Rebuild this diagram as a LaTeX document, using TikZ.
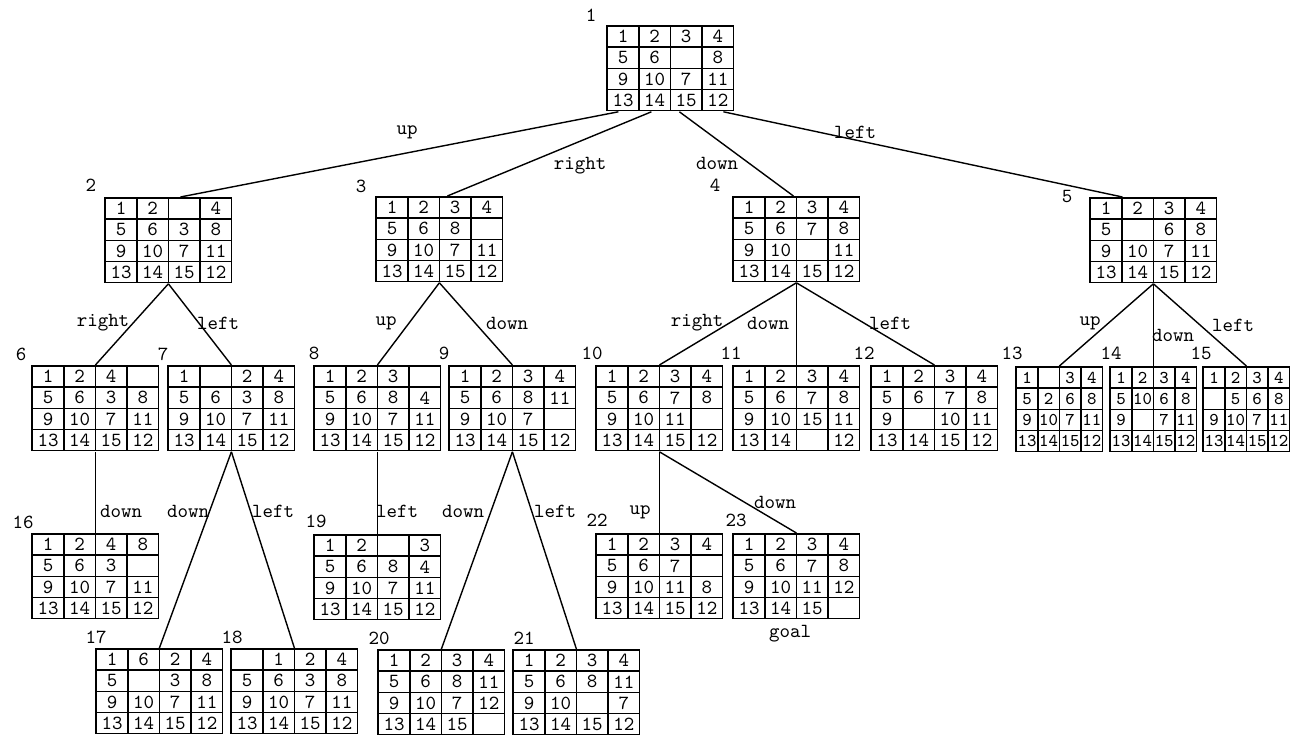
\documentclass[tikz,border=0pt]{standalone}
\usepackage{tikz}
\usetikzlibrary{matrix, positioning}

\tikzset{
  board/.style={matrix of nodes, nodes in empty cells, anchor=north west, inner sep=0pt,
    column sep=-0.8pt, row sep=-0.8pt,
    nodes={draw, line width=0.8pt, anchor=center, inner sep=0pt, outer sep=0pt, minimum width=15.8pt, minimum height=10.55pt, font=\ttfamily}},
  smallboard/.style={board, nodes={minimum width=10.8pt, font=\ttfamily\fontsize{9}{10}\selectfont}},
  edge/.style={line width=0.7pt},
  num/.style={font=\ttfamily, inner sep=1pt},
  move/.style={font=\ttfamily, inner sep=1pt}
}

\begin{document}
\begin{tikzpicture}[x=0.5pt, y=-0.5pt]
  \useasboundingbox (0,0) rectangle (1292,742);
  % start state
  \matrix[board] (b1) at (606,25) {1 & 2 & 3 & 4\\ 5 & 6 & & 8\\ 9 & 10 & 7 & 11\\ 13 & 14 & 15 & 12\\};
  \node[num] (n1) at (591,15) {1};
  % first level
  \matrix[board] (b2) at (104,197) {1 & 2 & & 4\\ 5 & 6 & 3 & 8\\ 9 & 10 & 7 & 11\\ 13 & 14 & 15 & 12\\};
  \matrix[board] (b3) at (375,196) {1 & 2 & 3 & 4\\ 5 & 6 & 8 & \\ 9 & 10 & 7 & 11\\ 13 & 14 & 15 & 12\\};
  \matrix[board] (b4) at (732,196) {1 & 2 & 3 & 4\\ 5 & 6 & 7 & 8\\ 9 & 10 & & 11\\ 13 & 14 & 15 & 12\\};
  \matrix[board] (b5) at (1089,197) {1 & 2 & 3 & 4\\ 5 & & 6 & 8\\ 9 & 10 & 7 & 11\\ 13 & 14 & 15 & 12\\};
  \node[num] (n2) at (91,185) {2};
  \node[num] (n3) at (361,186) {3};
  \node[num] (n4) at (715,185) {4};
  \node[num] (n5) at (1067,197) {5};
  \draw[edge] ([xshift=-26pt]b1.south) -- ([xshift=6pt]b2.north);
  \draw[edge] ([xshift=-9.5pt]b1.south) -- ([xshift=4pt]b3.north);
  \draw[edge] ([xshift=4.5pt]b1.south) -- ([xshift=-1.5pt]b4.north);
  \draw[edge] ([xshift=26.5pt]b1.south) -- ([xshift=-15.5pt]b5.north);
  \node[move] (m2) at (407,132) {up};
  \node[move] (m3) at (580,166) {right};
  \node[move] (m4) at (717,163) {down};
  \node[move] (m5) at (855,132) {left};
  % second level
  \matrix[board] (b6) at (31,365) {1 & 2 & 4 & \\ 5 & 6 & 3 & 8\\ 9 & 10 & 7 & 11\\ 13 & 14 & 15 & 12\\};
  \matrix[board] (b7) at (167,365) {1 & & 2 & 4\\ 5 & 6 & 3 & 8\\ 9 & 10 & 7 & 11\\ 13 & 14 & 15 & 12\\};
  \matrix[board] (b8) at (313,365) {1 & 2 & 3 & \\ 5 & 6 & 8 & 4\\ 9 & 10 & 7 & 11\\ 13 & 14 & 15 & 12\\};
  \matrix[board] (b9) at (448,365) {1 & 2 & 3 & 4\\ 5 & 6 & 8 & 11\\ 9 & 10 & 7 & \\ 13 & 14 & 15 & 12\\};
  \matrix[board] (b10) at (595,365) {1 & 2 & 3 & 4\\ 5 & 6 & 7 & 8\\ 9 & 10 & 11 & \\ 13 & 14 & 15 & 12\\};
  \matrix[board] (b11) at (732,365) {1 & 2 & 3 & 4\\ 5 & 6 & 7 & 8\\ 9 & 10 & 15 & 11\\ 13 & 14 & & 12\\};
  \matrix[board] (b12) at (870,365) {1 & 2 & 3 & 4\\ 5 & 6 & 7 & 8\\ 9 & & 10 & 11\\ 13 & 14 & 15 & 12\\};
  \matrix[smallboard] (b13) at (1015,366) {1 & & 3 & 4\\ 5 & 2 & 6 & 8\\ 9 & 10 & 7 & 11\\ 13 & 14 & 15 & 12\\};
  \matrix[smallboard] (b14) at (1109,366) {1 & 2 & 3 & 4\\ 5 & 10 & 6 & 8\\ 9 & & 7 & 11\\ 13 & 14 & 15 & 12\\};
  \matrix[smallboard] (b15) at (1202,366) {1 & 2 & 3 & 4\\ & 5 & 6 & 8\\ 9 & 10 & 7 & 11\\ 13 & 14 & 15 & 12\\};
  \node[num] (n6) at (21,354) {6};
  \node[num] (n7) at (163,354) {7};
  \node[num] (n8) at (314,353) {8};
  \node[num] (n9) at (444,353) {9};
  \node[num] (n10) at (592,353) {10};
  \node[num] (n11) at (731,353) {11};
  \node[num] (n12) at (864,353) {12};
  \node[num] (n13) at (1012,353) {13};
  \node[num] (n14) at (1111,353) {14};
  \node[num] (n15) at (1201,353) {15};
  \draw[edge] (b2.south) -- (b6.north);
  \draw[edge] (b2.south) -- (b7.north);
  \draw[edge] (b3.south) -- (b8.north);
  \draw[edge] (b3.south) -- (b9.north);
  \draw[edge] (b4.south) -- (b10.north);
  \draw[edge] (b4.south) -- (b11.north);
  \draw[edge] (b4.south) -- (b12.north);
  \draw[edge] (b5.south) -- (b13.north);
  \draw[edge] (b5.south) -- (b14.north);
  \draw[edge] (b5.south) -- (b15.north);
  \node[move] (m6) at (103,323) {right};
  \node[move] (m7) at (218,323) {left};
  \node[move] (m8) at (386,323) {up};
  \node[move] (m9) at (507,323) {down};
  \node[move] (m10) at (697,323) {right};
  \node[move] (m11) at (768,323) {down};
  \node[move] (m12) at (890,323) {left};
  \node[move] (m13) at (1090,323) {up};
  \node[move] (m14) at (1173,335) {down};
  \node[move] (m15) at (1233,325) {left};
  % third level
  \matrix[board] (b16) at (31,533) {1 & 2 & 4 & 8\\ 5 & 6 & 3 & \\ 9 & 10 & 7 & 11\\ 13 & 14 & 15 & 12\\};
  \matrix[board] (b17) at (95,648) {1 & 6 & 2 & 4\\ 5 & & 3 & 8\\ 9 & 10 & 7 & 11\\ 13 & 14 & 15 & 12\\};
  \matrix[board] (b18) at (230,648) { & 1 & 2 & 4\\ 5 & 6 & 3 & 8\\ 9 & 10 & 7 & 11\\ 13 & 14 & 15 & 12\\};
  \matrix[board] (b19) at (313,534) {1 & 2 & & 3\\ 5 & 6 & 8 & 4\\ 9 & 10 & 7 & 11\\ 13 & 14 & 15 & 12\\};
  \matrix[board] (b20) at (377,649) {1 & 2 & 3 & 4\\ 5 & 6 & 8 & 11\\ 9 & 10 & 7 & 12\\ 13 & 14 & 15 & \\};
  \matrix[board] (b21) at (512,649) {1 & 2 & 3 & 4\\ 5 & 6 & 8 & 11\\ 9 & 10 & & 7\\ 13 & 14 & 15 & 12\\};
  \matrix[board] (b22) at (595,533) {1 & 2 & 3 & 4\\ 5 & 6 & 7 & \\ 9 & 10 & 11 & 8\\ 13 & 14 & 15 & 12\\};
  \matrix[board] (b23) at (732,533) {1 & 2 & 3 & 4\\ 5 & 6 & 7 & 8\\ 9 & 10 & 11 & 12\\ 13 & 14 & 15 & \\};
  \node[num] (n16) at (23,522) {16};
  \node[num] (n17) at (96,637) {17};
  \node[num] (n18) at (232,637) {18};
  \node[num] (n19) at (316,521) {19};
  \node[num] (n20) at (379,638) {20};
  \node[num] (n21) at (524,638) {21};
  \node[num] (n22) at (597,520) {22};
  \node[num] (n23) at (736,520) {23};
  \draw[edge] (b6.south) -- (b16.north);
  \draw[edge] (b7.south) -- (b17.north);
  \draw[edge] (b7.south) -- (b18.north);
  \draw[edge] (b8.south) -- (b19.north);
  \draw[edge] (b9.south) -- (b20.north);
  \draw[edge] (b9.south) -- (b21.north);
  \draw[edge] (b10.south) -- (b22.north);
  \draw[edge] (b10.south) -- (b23.north);
  \node[move] (m16) at (121,511) {down};
  \node[move] (m17) at (188,511) {down};
  \node[move] (m18) at (273,511) {left};
  \node[move] (m19) at (397,511) {left};
  \node[move] (m20) at (463,511) {down};
  \node[move] (m21) at (555,511) {left};
  \node[move] (m22) at (640,512) {up};
  \node[move] (m23) at (775,502) {down};
  \node[move] (goal) at (790,634) {goal};
\end{tikzpicture}
\end{document}
